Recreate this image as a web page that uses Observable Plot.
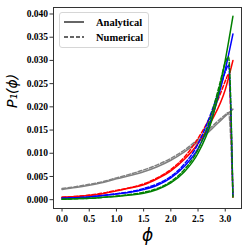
<!DOCTYPE html>
<html>
<head>
<meta charset="utf-8">
<script src="https://cdn.jsdelivr.net/npm/d3@7"></script>
<script src="https://cdn.jsdelivr.net/npm/@observablehq/plot@0.6"></script>
<style>
  html, body { margin: 0; padding: 0; background: #fff; }
  #wrap { position: relative; width: 249px; height: 249px; }
  #legend { position: absolute; left: 59px; top: 12px; width: 88px; height: 34px;
    border: 1px solid #d6d6d6; border-radius: 3px; background: rgba(255,255,255,0.85);
    font-family: "Liberation Serif", serif; font-weight: bold; font-size: 10.5px; color: #000; }
  #legend .row { position: absolute; left: 0; height: 14px; display: flex; align-items: center; }
  #legend svg { margin-left: 4px; margin-right: 12px; }
</style>
</head>
<body>
<div id="wrap">
  <div id="chart"></div>
  <div id="legend">
    <div class="row" style="top:2px"><svg width="20" height="4"><line x1="0" y1="2" x2="20" y2="2" stroke="#333" stroke-width="1.5"/></svg><span>Analytical</span></div>
    <div class="row" style="top:17px"><svg width="20" height="4"><line x1="0" y1="2" x2="20" y2="2" stroke="#333" stroke-width="1.5" stroke-dasharray="4,2"/></svg><span>Numerical</span></div>
  </div>
</div>
<script>
// Analytical grid and values
const phiA = [0, 0.25, 0.5, 0.75, 1.0, 1.25, 1.5, 1.75, 2.0, 2.25, 2.5, 2.75, 3.0, 3.1416];
const grayA  = [0.0022,0.0026,0.0031,0.0037,0.0045,0.0052,0.0060,0.0071,0.0085,0.0103,0.0125,0.0152,0.0180,0.0195];
const redA   = [0.0005,0.0007,0.0009,0.0013,0.0019,0.0025,0.0032,0.0045,0.0062,0.0087,0.0121,0.0170,0.0237,0.0300];
const blueA  = [0.0003,0.0004,0.0006,0.0009,0.0012,0.0016,0.0022,0.0031,0.0047,0.0072,0.0110,0.0175,0.0280,0.0357];
const greenA = [0.0001,0.0002,0.0003,0.0005,0.0007,0.0010,0.0014,0.0022,0.0036,0.0060,0.0100,0.0170,0.0300,0.0395];

// Numerical grid and values
const phiN = [0, 0.25, 0.5, 0.75, 1.0, 1.25, 1.5, 1.75, 2.0, 2.25, 2.5, 2.75, 2.9, 3.0, 3.06, 3.1416];
const grayN  = [0.0024,0.0028,0.0033,0.0039,0.0047,0.0055,0.0064,0.0075,0.0089,0.0107,0.0130,0.0157,0.0173,0.0183,0.0188,0.0005];
const redN   = [0.0005,0.0007,0.0010,0.0014,0.0020,0.0026,0.0034,0.0047,0.0065,0.0092,0.0132,0.0185,0.0225,0.0255,0.0270,0.0006];
const blueN  = [0.0003,0.0004,0.0006,0.0009,0.0013,0.0017,0.0024,0.0034,0.0050,0.0077,0.0120,0.0190,0.0240,0.0275,0.0290,0.0006];
const greenN = [0.0001,0.0002,0.0003,0.0005,0.0008,0.0011,0.0016,0.0024,0.0039,0.0065,0.0108,0.0185,0.0250,0.0295,0.0308,0.0006];

const seriesColors = ["gray", "red", "blue", "green"];
const analytical = [grayA, redA, blueA, greenA];
const numerical = [grayN, redN, blueN, greenN];

const xTicks = [0, 0.5, 1.0, 1.5, 2.0, 2.5, 3.0];
const yTicks = [0, 0.005, 0.010, 0.015, 0.020, 0.025, 0.030, 0.035, 0.040];

const toRows = (xs, ys) => xs.map((x, i) => ({x, y: ys[i]}));

const marks = [];
seriesColors.forEach((c, k) => {
  marks.push(Plot.line(toRows(phiA, analytical[k]), {x: "x", y: "y", stroke: c, strokeWidth: 1.5, curve: "monotone-x"}));
  marks.push(Plot.line(toRows(phiN, numerical[k]), {x: "x", y: "y", stroke: c, strokeWidth: 1.5, strokeDasharray: "4,2", curve: "monotone-x"}));
});

const chart = Plot.plot({
  width: 249,
  height: 249,
  marginLeft: 53,
  marginRight: 8,
  marginTop: 7,
  marginBottom: 41,
  style: {fontFamily: "'Liberation Serif', serif", fontWeight: "bold", fontSize: "9.5px", color: "#000", background: "#fff"},
  x: {domain: [-0.157, 3.299], ticks: xTicks, tickFormat: d => d.toFixed(1), label: null},
  y: {domain: [-0.0019, 0.0414], ticks: yTicks, tickFormat: d => d.toFixed(3), label: null},
  marks: [
    Plot.frame({stroke: "#333", strokeWidth: 1}),
    Plot.axisX({ticks: xTicks, tickFormat: d => d.toFixed(1), tickSize: 3.5, tickPadding: 3, stroke: "#333", label: null}),
    Plot.axisY({ticks: yTicks, tickFormat: d => d.toFixed(3), tickSize: 3.5, tickPadding: 2, stroke: "#333", label: null}),
    ...marks,
    Plot.text(["ϕ"], {frameAnchor: "bottom", dy: 27, fontSize: 17, fontStyle: "italic", fontWeight: "normal", fontFamily: "DejaVu Sans", lineAnchor: "middle"}),
    Plot.text(["P₁(ϕ)"], {frameAnchor: "left", dx: -41, rotate: -90, fontSize: 14, fontStyle: "italic", fontWeight: "normal", fontFamily: "DejaVu Sans"})
  ]
});
document.getElementById("chart").appendChild(chart);
</script>
</body>
</html>
